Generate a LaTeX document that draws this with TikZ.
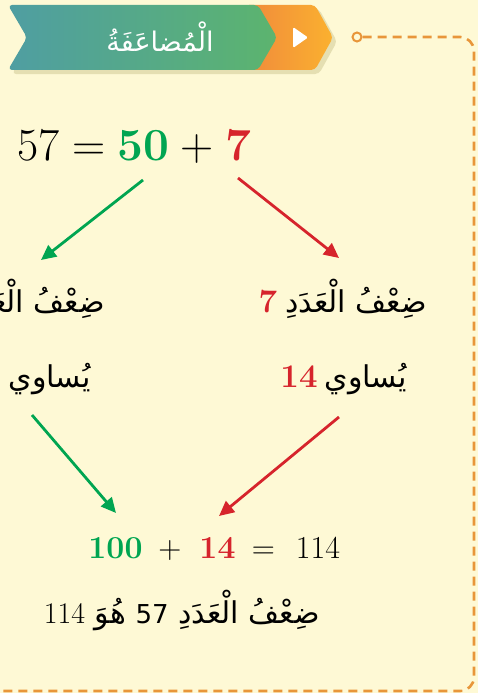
\documentclass[tikz,border=0pt]{standalone}
\usepackage{fontspec}
\newfontfamily\arabicfont[Script=Arabic]{DejaVu Sans}
\TeXXeTstate=1
\usetikzlibrary{arrows.meta}
\definecolor{bgc}{HTML}{FEF9D5}
\definecolor{gr}{HTML}{00A551}
\definecolor{rd}{HTML}{D6242C}
\definecolor{dashc}{HTML}{E8963A}
\definecolor{tealL}{HTML}{4F9EA2}
\definecolor{greenR}{HTML}{5CB46E}
\definecolor{orL}{HTML}{F08A3C}
\definecolor{orR}{HTML}{FBB12F}
\definecolor{shad}{HTML}{E5DFB2}
\newcommand\bnum[3]{{\normalfont\bfseries\fontsize{#1}{#1}\selectfont\color{#2}#3}}
\newcommand\rnum[2]{{\normalfont\fontsize{#1}{#1}\selectfont #2}}
\begin{document}
\begin{tikzpicture}[x=1pt,y=-1pt,
  arr/.style={line width=2.8pt,-{Triangle[length=15pt,width=14pt]}},
  artext/.style={inner sep=0pt, font=\arabicfont\fontsize{30}{34}\selectfont},
  bigtok/.style={inner sep=0pt, anchor=base, font=\fontsize{46}{50}\selectfont},
  midtok/.style={inner sep=0pt, anchor=base, font=\fontsize{32}{36}\selectfont},
]
\useasboundingbox (0,0) rectangle (478,693);
\fill[bgc] (0,0) rectangle (478,693);
\clip (0,0) rectangle (478,693);
% banner
\fill[shad, rounded corners=4pt] (12,9) -- (319,9) -- (337,41.5) -- (319,74) -- (12,74) -- (31,41.5) -- cycle;
\shade[left color=orL, right color=orR, rounded corners=4pt] (245,5) -- (315,5) -- (333,37.5) -- (315,70) -- (245,70) -- cycle;
\shade[left color=tealL, right color=greenR, rounded corners=4pt] (8,5) -- (258,5) -- (277,37.5) -- (258,70) -- (8,70) -- (27,37.5) -- cycle;
\fill[white, rounded corners=1.5pt] (293,27) -- (308,37.5) -- (293,48) -- cycle;
\node[text=white, inner sep=0pt, font=\arabicfont\fontsize{27}{30}\selectfont] (title) at (160,37) {\beginR الْمُضاعَفَةُ\endR};
% dashed frame
\node[circle, draw=dashc, line width=2pt, minimum size=9pt, inner sep=0pt] (dot) at (357,37) {};
\coordinate (c1) at (474,37);
\coordinate (c2) at (474,691);
\coordinate (c3) at (-10,691);
\draw[dashc, line width=2.6pt, dash pattern=on 9pt off 6pt, rounded corners=14pt] (dot.east) -- (c1) -- (c2) -- (c3);
% top equation
\node[bigtok] (t57) at (38.5,160) {57};
\node[bigtok] (teq) at (89.5,160) {=};
\node[bigtok, text=gr, font=\bfseries\fontsize{46}{50}\selectfont] (t50) at (143.5,160) {50};
\node[bigtok] (tplus) at (197.5,160) {+};
\node[bigtok, text=rd, font=\bfseries\fontsize{46}{50}\selectfont] (t7) at (238.5,160) {7};
% left column
\node[artext, anchor=base east] (l1) at (105,312) {\beginR ضِعْفُ الْعَدَدِ\hspace{8pt}\beginL\bnum{33}{gr}{50}\endL\endR};
\node[artext, anchor=base east] (l2) at (91,387) {\beginR يُساوي\hspace{7pt}\beginL\bnum{33}{gr}{100}\endL\endR};
% right column
\node[artext, anchor=base east] (r1) at (427,312) {\beginR ضِعْفُ الْعَدَدِ\hspace{8pt}\beginL\bnum{33}{rd}{7}\endL\endR};
\node[artext, anchor=base east] (r2) at (407,387) {\beginR يُساوي\hspace{7pt}\beginL\bnum{33}{rd}{14}\endL\endR};
% bottom equation
\node[midtok, text=gr, font=\bfseries\fontsize{32}{36}\selectfont] (b100) at (115.5,558) {100};
\node[midtok] (bplus) at (170,558) {+};
\node[midtok, text=rd, font=\bfseries\fontsize{32}{36}\selectfont] (b14) at (217.5,558) {14};
\node[midtok] (beq) at (263.5,558) {=};
\node[midtok] (b114) at (318,558) {114};
\node[artext, anchor=base east] (res) at (320,623) {\beginR ضِعْفُ الْعَدَدِ {\fontsize{26}{30}\selectfont\beginL57\endL} هُوَ \beginL\rnum{30}{114}\endL\endR};
% arrows
\coordinate (g1s) at (143,180);
\coordinate (g1e) at (41,260);
\coordinate (r1s) at (238,178);
\coordinate (r1e) at (339,258);
\coordinate (g2s) at (32,415);
\coordinate (g2e) at (116,513);
\coordinate (r2s) at (339,417);
\coordinate (r2e) at (219,516);
\draw[arr, gr] (g1s) -- (g1e);
\draw[arr, rd] (r1s) -- (r1e);
\draw[arr, gr] (g2s) -- (g2e);
\draw[arr, rd] (r2s) -- (r2e);
\end{tikzpicture}
\end{document}
